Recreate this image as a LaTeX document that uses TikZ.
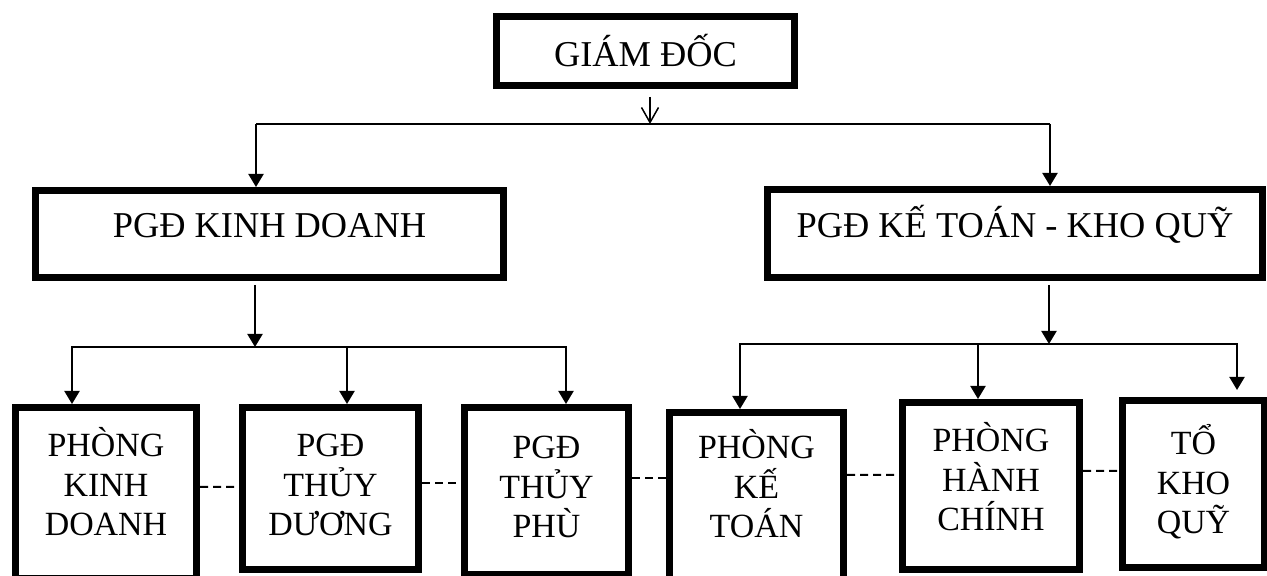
\documentclass[tikz,border=0pt]{standalone}
\usepackage{fontspec}
\setmainfont{Liberation Serif}
\usetikzlibrary{arrows.meta}

\begin{document}
\begin{tikzpicture}[
topbox/.style={rectangle, draw, line width=0.14cm, align=center, inner sep=0pt,
font=\fontsize{20.7}{24.8}\selectfont},
midbox/.style={topbox, text height=0.6cm, text depth=0.44cm},
lowbox/.style={rectangle, draw, line width=0.14cm, align=center, inner sep=0pt,
font=\fontsize{19.3}{22.7}\selectfont, text height=#1, text depth=0.2cm},
busln/.style={line width=0.04cm},
arr/.style={-{Triangle[length=0.26cm,width=0.3cm]}, line width=0.04cm},
openarr/.style={-{Straight Barb[length=0.3cm,width=0.34cm]}, line width=0.03cm},
dashln/.style={dash pattern=on 0.16cm off 0.1cm, line width=0.04cm}]

\useasboundingbox (0,0) rectangle (25.34,11.52);

\node[topbox, minimum width=5.96cm, minimum height=1.38cm] (GD) at (12.91,10.5) {GIÁM ĐỐC};
\node[midbox, minimum width=9.36cm, minimum height=1.74cm] (KD) at (5.39,6.84) {PGĐ KINH DOANH};
\node[midbox, minimum width=9.9cm, minimum height=1.76cm] (KT) at (20.3,6.85) {PGĐ KẾ TOÁN - KHO QUỸ};

\node[lowbox=1.92cm, minimum width=3.62cm, minimum height=3.42cm] (PKD) at (2.12,1.66) {PHÒNG\\KINH\\DOANH};
\node[lowbox=2.1cm, minimum width=3.52cm, minimum height=3.24cm] (TD) at (6.61,1.75) {PGĐ\\THỦY\\DƯƠNG};
\node[lowbox=2.08cm, minimum width=3.28cm, minimum height=3.34cm] (TP) at (10.93,1.70) {PGĐ\\THỦY\\PHÙ};
\node[lowbox=1.74cm, minimum width=3.48cm, minimum height=3.48cm] (PKT) at (15.13,1.53) {PHÒNG\\KẾ\\TOÁN};
\node[lowbox=2.0cm, minimum width=3.54cm, minimum height=3.34cm] (PHC) at (19.82,1.80) {PHÒNG\\HÀNH\\CHÍNH};
\node[lowbox=2.2cm, minimum width=2.84cm, minimum height=3.34cm] (TKQ) at (23.87,1.84) {TỔ\\KHO\\QUỸ};

\coordinate (T) at (13.0,9.04);
\coordinate (TL) at (5.12,9.04);
\coordinate (TR) at (21.0,9.04);
\coordinate (ML) at (5.10,4.58);
\coordinate (L1) at (1.44,4.58);
\coordinate (L2) at (6.94,4.58);
\coordinate (L3) at (11.32,4.58);
\coordinate (MR) at (20.98,4.64);
\coordinate (R1) at (14.8,4.64);
\coordinate (R2) at (19.56,4.64);
\coordinate (R3) at (24.74,4.64);

% giam doc -> hai pho giam doc
\draw[openarr, shorten <=0.16cm] (GD.south -| T) -- (T);
\draw[busln] (TL) -- (TR);
\draw[arr] (TL) -- (TL |- KD.north);
\draw[arr] (TR) -- (TR |- KT.north);

% nhanh kinh doanh
\draw[arr, shorten <=0.08cm] (KD.south -| ML) -- (ML);
\draw[arr] (L2) -- (L1) -- (L1 |- PKD.north);
\draw[arr] (L2) -- (L2 |- TD.north);
\draw[arr] (L2) -- (L3) -- (L3 |- TP.north);

% nhanh ke toan
\draw[arr, shorten <=0.08cm] (KT.south -| MR) -- (MR);
\draw[arr] (R2) -- (R1) -- (R1 |- PKT.north);
\draw[arr] (R2) -- (R2 |- PHC.north);
\draw[arr, shorten >=0.14cm] (R2) -- (R3) -- (R3 |- TKQ.north);

% noi ngang
\draw[dashln] ([yshift=0.12cm]PKD.east) -- ([yshift=0.03cm]TD.west);
\draw[dashln] ([yshift=0.11cm]TD.east) -- ([yshift=0.16cm]TP.west);
\draw[dashln] ([yshift=0.26cm]TP.east) -- ([yshift=0.43cm]PKT.west);
\draw[dashln] ([yshift=0.49cm]PKT.east) -- ([yshift=0.22cm]PHC.west);
\draw[dashln] ([yshift=0.30cm]PHC.east) -- ([yshift=0.26cm]TKQ.west);

\end{tikzpicture}
\end{document}
